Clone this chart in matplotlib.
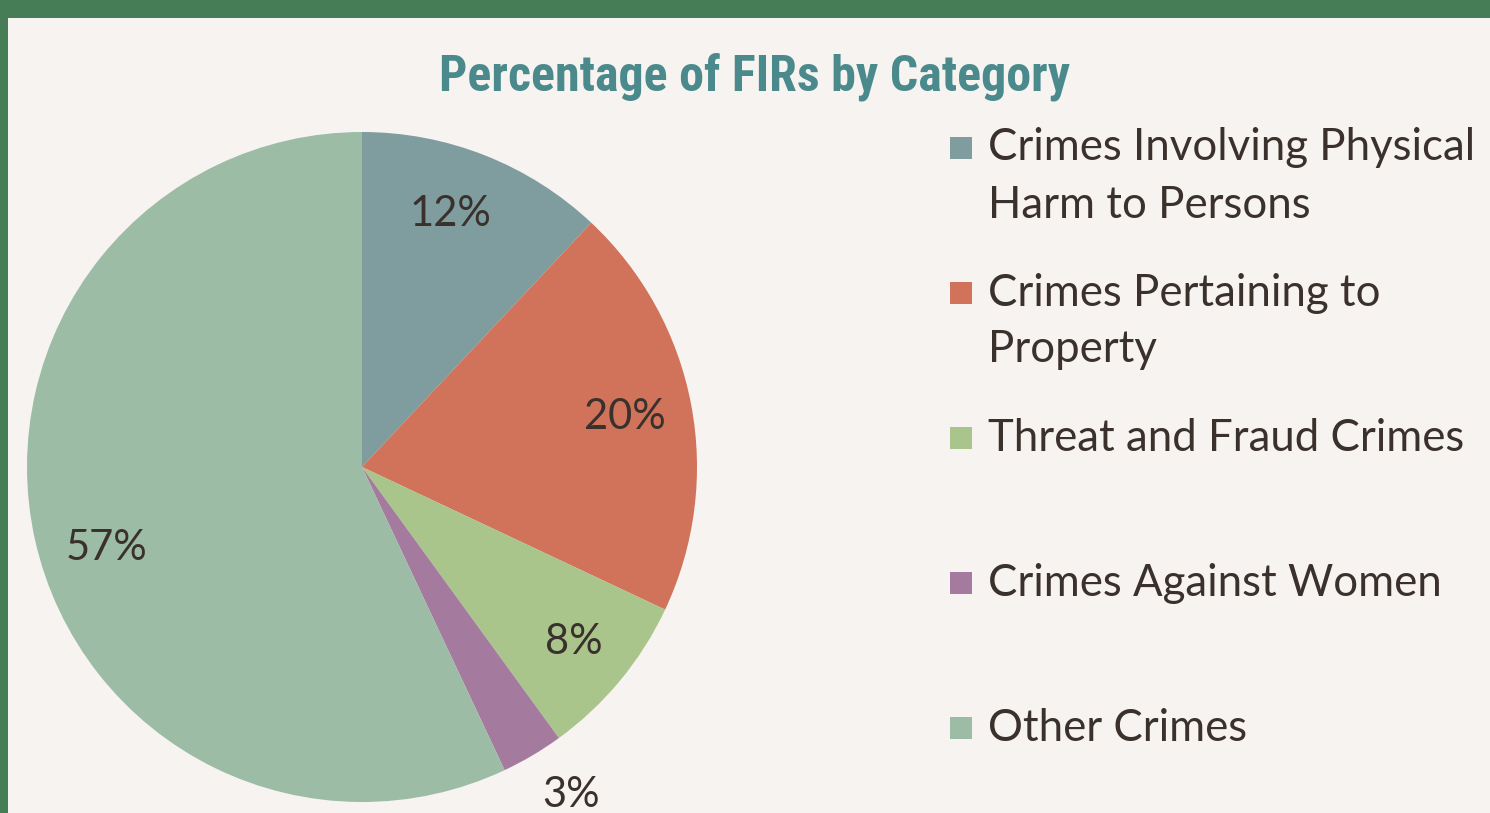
import matplotlib
matplotlib.use("Agg")
import matplotlib.pyplot as plt
from matplotlib.patches import Rectangle
import numpy as np

categories = ["Crimes Involving Physical\nHarm to Persons",
              "Crimes Pertaining to\nProperty",
              "Threat and Fraud Crimes",
              "Crimes Against Women",
              "Other Crimes"]
values = [12, 20, 8, 3, 57]
pct_labels = ["12%", "20%", "8%", "3%", "57%"]
colors = ["#7f9d9f", "#d0735a", "#a9c58b", "#a47b9f", "#9cbca5"]
label_dist = [0.80, 0.80, 0.82, 1.16, 0.80]
label_angle_shift = [2.4, 0.0, 0.0, 1.9, 4.9]
title = "Percentage of FIRs by Category"

W, H = 1490, 813
BG = "#f7f3f0"
GREEN = "#467c56"
TXT = "#3a302c"
FONT = ["Lato", "DejaVu Sans"]

fig = plt.figure(figsize=(W / 100, H / 100), dpi=100, facecolor=BG)

# frame border
fig.patches.append(Rectangle((0, 1 - 18 / H), 1, 18 / H, transform=fig.transFigure,
                             facecolor=GREEN, edgecolor="none", zorder=0))
fig.patches.append(Rectangle((0, 0), 8 / W, 1, transform=fig.transFigure,
                             facecolor=GREEN, edgecolor="none", zorder=0))

# pie axes: center (362,467) radius 335 px
cx, cy, r = 362, 467, 335
ax = fig.add_axes([(cx - r) / W, (H - cy - r) / H, 2 * r / W, 2 * r / H])
ax.set_facecolor("none")
wedges, _ = ax.pie(values, colors=colors, startangle=90, counterclock=False,
                   radius=1.0, wedgeprops=dict(linewidth=0))
ax.set_xlim(-1, 1)
ax.set_ylim(-1, 1)
ax.set_aspect("equal")
ax.axis("off")

for w, lab, d, s in zip(wedges, pct_labels, label_dist, label_angle_shift):
    ang = np.deg2rad((w.theta1 + w.theta2) / 2 + s)
    ax.text(d * np.cos(ang), d * np.sin(ang), lab, ha="center", va="center",
            fontsize=30, color=TXT, family=FONT, clip_on=False)

# title
fig.text(755 / W, 1 - 77 / H, title, ha="center", va="center", fontsize=36,
         fontweight="bold", fontstretch="condensed", color="#4a8a8c",
         family=["Roboto Condensed", "DejaVu Sans"])

# legend drawn manually
y0, dy, line_h = 148, 145, 57
for i, (cat, col) in enumerate(zip(categories, colors)):
    y = y0 + dy * i
    fig.patches.append(Rectangle((950 / W, 1 - (y + 11) / H), 22 / W, 22 / H,
                                 transform=fig.transFigure, facecolor=col,
                                 edgecolor="none"))
    for j, line in enumerate(cat.split("\n")):
        fig.text(988 / W, 1 - (y + line_h * j) / H, line, ha="left", va="center",
                 fontsize=31.5, color=TXT, family=FONT)

fig.savefig("out.png", dpi=100, facecolor=BG)
